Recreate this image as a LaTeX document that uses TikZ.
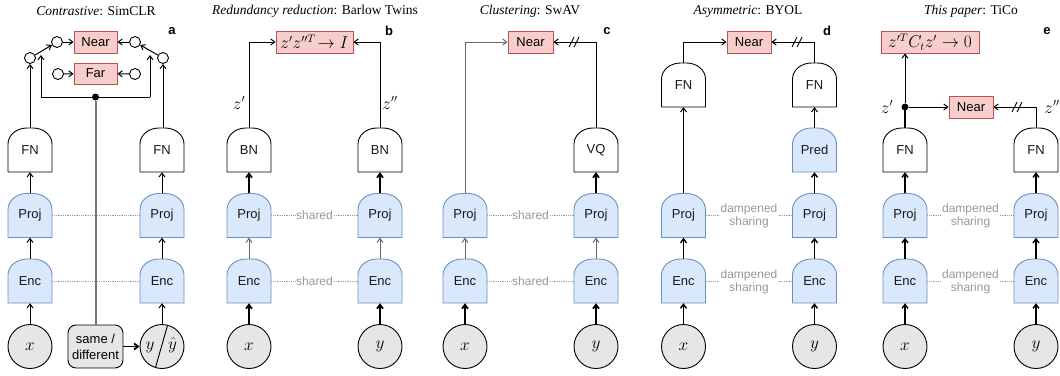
\documentclass[tikz,border=0pt]{standalone}
\usepackage{fontspec}
\setmainfont{Liberation Serif}
\setsansfont{Liberation Sans}
\usetikzlibrary{arrows.meta,calc}
\definecolor{bfill}{HTML}{DAE8FC}
\definecolor{bdraw}{HTML}{6C8EBF}
\definecolor{rfill}{HTML}{F8CECC}
\definecolor{rdraw}{HTML}{B85450}
\definecolor{cfill}{HTML}{E6E6E6}
\definecolor{lgray}{HTML}{999999}
\definecolor{dgray}{HTML}{666666}
\definecolor{mgray}{HTML}{777777}
\tikzset{
  sflab/.style={font=\sffamily\fontsize{13}{15}\selectfont},
  gatebase/.style={rectangle, minimum width=44pt, minimum height=44pt, inner sep=0pt, sflab, text=black!90},
  wgate/.style={draw=black, fill=white, line width=0.9pt},
  bgate/.style={draw=bdraw, fill=bfill, line width=0.9pt},
  lossbox/.style={draw=rdraw, fill=rfill, minimum height=22pt, inner sep=0pt, line width=0.9pt, sflab},
  innode/.style={circle, draw, fill=cfill, minimum size=44pt, inner sep=0pt, line width=0.9pt, font=\fontsize{16}{18}\selectfont},
  smallc/.style={circle, draw, fill=white, minimum size=11pt, inner sep=0pt, line width=0.9pt},
  arr/.style={-{Straight Barb[length=4pt,width=6pt]}, line width=1pt},
  marr/.style={-{Straight Barb[length=4pt,width=6pt]}, line width=1.4pt},
  tharr/.style={-{Straight Barb[length=4pt,width=6pt]}, line width=1.8pt},
  garr/.style={-{Straight Barb[length=4pt,width=6pt]}, line width=1pt, draw=dgray},
  plainline/.style={line width=1pt},
  dotline/.style={densely dotted, draw=lgray, line width=0.8pt},
  sharelab/.style={font=\sffamily\fontsize{12}{13}\selectfont, text=lgray, fill=white, inner sep=1pt, align=center},
  titlelab/.style={font=\fontsize{13.5}{15}\selectfont},
  panlab/.style={font=\sffamily\bfseries\fontsize{13}{15}\selectfont},
  mlab/.style={font=\fontsize{16}{18}\selectfont, inner sep=1pt},
  dotnode/.style={circle, fill=black, minimum size=7pt, inner sep=0pt},
}
\newcommand\gatenode[5]{%
  \path[#5] (#2-22,#3+22) -- (#2-22,#3-6) arc[start angle=180,end angle=270,x radius=19,y radius=16]
    -- (#2+3,#3-22) arc[start angle=270,end angle=360,x radius=19,y radius=16] -- (#2+22,#3+22) -- cycle;
  \node[gatebase] (#1) at (#2,#3) {#4};
}
\newcommand\slashmark[2]{%
  \draw[line width=0.9pt] (#1-6,#2+5) -- (#1-1,#2-5);
  \draw[line width=0.9pt] (#1-1,#2+5) -- (#1+4,#2-5);
}
\begin{document}
\begin{tikzpicture}[x=1pt,y=-1pt]
\useasboundingbox (0,0) rectangle (1060,375);

% ---------------- titles ----------------
\node[titlelab] (ta) at (96,11) {\textit{Contrastive}: SimCLR};
\node[titlelab] (tb) at (315,11) {\textit{Redundancy reduction}: Barlow Twins};
\node[titlelab] (tc) at (530,11) {\textit{Clustering}: SwAV};
\node[titlelab] (td) at (748,11) {\textit{Asymmetric}: BYOL};
\node[titlelab] (te) at (971,11) {\textit{This paper}: TiCo};
\node[panlab] (la) at (172,31) {a};
\node[panlab] (lb) at (389,31) {b};
\node[panlab] (lc) at (607,31) {c};
\node[panlab] (ld) at (827,31) {d};
\node[panlab] (le) at (1047,31) {e};

% ---------------- panel a ----------------
\gatenode{aFNl}{30}{150}{FN}{wgate}
\gatenode{aFNr}{162}{150}{FN}{wgate}
\gatenode{aPl}{30}{215.5}{Proj}{bgate}
\gatenode{aPr}{162}{215.5}{Proj}{bgate}
\gatenode{aEl}{30}{281}{Enc}{bgate}
\gatenode{aEr}{162}{281}{Enc}{bgate}
\node[innode] (ax) at (30,346.5) {$x$};
\node[innode] (ay) at (162,346.5) {};
\coordinate (ayt) at (167.5,325.5);
\coordinate (ayb) at (155.5,367.5);
\draw[line width=0.9pt] (ayt) -- (ayb);
\node[mlab] (aylab) at (150,347) {$y$};
\node[mlab] (ayhat) at (172.5,345.5) {$\hat{y}$};
\node[draw, fill=cfill, rounded corners=8pt, minimum width=55pt, minimum height=43pt, inner sep=0pt, align=center, line width=0.9pt, font=\sffamily\fontsize{13}{16}\selectfont] (asd) at (95.5,346.5) {same /\\different};
\node[lossbox, minimum width=43pt] (aNear) at (95.5,42) {Near};
\node[lossbox, minimum width=43pt, minimum height=21pt] (aFar) at (95.5,73.5) {Far};
\node[smallc] (aO1) at (30,58) {};
\node[smallc] (aO2) at (163,58) {};
\node[smallc] (aN1) at (57,42) {};
\node[smallc] (aN2) at (135,42) {};
\node[smallc] (aF1) at (58,74) {};
\node[smallc] (aF2) at (135,74) {};
\node[dotnode] (aDot) at (95.5,97) {};
\coordinate (aBL) at (41,97);
\coordinate (aBR) at (150,97);
\coordinate (aBLt) at (41,55);
\coordinate (aBRt) at (150,55);
\draw[dotline] (aPl) -- (aPr);
\draw[dotline] (aEl) -- (aEr);
\draw[line width=2pt, draw=mgray] (asd) -- (aDot);
\draw[arr] (ax) -- (aEl);
\draw[arr] (aEl) -- (aPl);
\draw[arr] (aPl) -- (aFNl);
\draw[arr] (aFNl) -- (aO1);
\draw[arr] (ay) -- (aEr);
\draw[arr] (aEr) -- (aPr);
\draw[arr] (aPr) -- (aFNr);
\draw[arr] (aFNr.north -| aO2) -- (aO2);
\draw[arr] (aO1) -- (aN1);
\draw[arr] (aO2) -- (aN2);
\draw[arr] (aN1) -- (aNear);
\draw[arr] (aN2) -- (aNear);
\draw[arr] (aF1) -- (aFar);
\draw[arr] (aF2) -- (aFar);
\draw[plainline] (aBL) -- (aBR);
\draw[arr] (aBL) -- (aBLt);
\draw[arr] (aBR) -- (aBRt);
\draw[tharr] (asd) -- (ay);

% ---------------- panel b ----------------
\gatenode{bBNl}{249}{150}{BN}{wgate}
\gatenode{bBNr}{380}{150}{BN}{wgate}
\gatenode{bPl}{249}{215.5}{Proj}{bgate}
\gatenode{bPr}{380}{215.5}{Proj}{bgate}
\gatenode{bEl}{249}{281}{Enc}{bgate}
\gatenode{bEr}{380}{281}{Enc}{bgate}
\node[innode] (bx) at (249,346.5) {$x$};
\node[innode] (by) at (380,346.5) {$y$};
\node[lossbox, minimum width=77pt] (bLoss) at (314.5,42) {\fontsize{16}{18}\selectfont$z'z''^{T}\!\rightarrow I$};
\node[sharelab] (bsP) at (314.5,215.5) {shared};
\node[sharelab] (bsE) at (314.5,281) {shared};
\draw[dotline] (bPl) -- (bsP); \draw[dotline] (bsP) -- (bPr);
\draw[dotline] (bEl) -- (bsE); \draw[dotline] (bsE) -- (bEr);
\draw[tharr] (bx) -- (bEl);
\draw[garr] (bEl) -- (bPl);
\draw[tharr] (bPl) -- (bBNl);
\draw[tharr] (by) -- (bEr);
\draw[garr] (bEr) -- (bPr);
\draw[tharr] (bPr) -- (bBNr);
\draw[arr] (bBNl.north) |- (bLoss.west);
\draw[arr] (bBNr.north) |- (bLoss.east);
\node[mlab] (bzl) at (239,103) {$z'$};
\node[mlab] (bzr) at (390,103) {$z''$};

% ---------------- panel c ----------------
\gatenode{cVQ}{596}{150}{VQ}{wgate}
\gatenode{cPl}{465}{215.5}{Proj}{bgate}
\gatenode{cPr}{596}{215.5}{Proj}{bgate}
\gatenode{cEl}{465}{281}{Enc}{bgate}
\gatenode{cEr}{596}{281}{Enc}{bgate}
\node[innode] (cx) at (465,346.5) {$x$};
\node[innode] (cy) at (596,346.5) {$y$};
\node[lossbox, minimum width=45pt] (cNear) at (530.5,42) {Near};
\node[sharelab] (csP) at (530.5,215.5) {shared};
\node[sharelab] (csE) at (530.5,281) {shared};
\draw[dotline] (cPl) -- (csP); \draw[dotline] (csP) -- (cPr);
\draw[dotline] (cEl) -- (csE); \draw[dotline] (csE) -- (cEr);
\draw[tharr] (cx) -- (cEl);
\draw[garr] (cEl) -- (cPl);
\draw[tharr] (cy) -- (cEr);
\draw[garr] (cEr) -- (cPr);
\draw[tharr] (cPr) -- (cVQ);
\draw[garr] (cPl.north) |- (cNear.west);
\draw[arr] (cVQ.north) |- (cNear.east);
\slashmark{575}{42}

% ---------------- panel d ----------------
\gatenode{dFNl}{683.5}{85}{FN}{wgate}
\gatenode{dFNr}{814.5}{85}{FN}{wgate}
\gatenode{dPred}{814.5}{150}{Pred}{bgate}
\gatenode{dPl}{683.5}{215.5}{Proj}{bgate}
\gatenode{dPr}{814.5}{215.5}{Proj}{bgate}
\gatenode{dEl}{683.5}{281}{Enc}{bgate}
\gatenode{dEr}{814.5}{281}{Enc}{bgate}
\node[innode] (dx) at (683.5,346.5) {$x$};
\node[innode] (dy) at (814.5,346.5) {$y$};
\node[lossbox, minimum width=44pt] (dNear) at (749,42) {Near};
\node[sharelab] (dsP) at (749,216) {dampened\\sharing};
\node[sharelab] (dsE) at (749,281.5) {dampened\\sharing};
\draw[dotline] (dPl) -- (dsP.west |- dPl); \draw[dotline] (dsP.east |- dPr) -- (dPr);
\draw[dotline] (dEl) -- (dsE.west |- dEl); \draw[dotline] (dsE.east |- dEr) -- (dEr);
\draw[marr] (dx) -- (dEl);
\draw[marr] (dEl) -- (dPl);
\draw[arr] (dPl) -- (dFNl);
\draw[marr] (dy) -- (dEr);
\draw[marr] (dEr) -- (dPr);
\draw[marr] (dPr) -- (dPred);
\draw[arr] (dPred) -- (dFNr);
\draw[arr] (dFNl.north) |- (dNear.west);
\draw[arr] (dFNr.north) |- (dNear.east);
\slashmark{798}{42}

% ---------------- panel e ----------------
\gatenode{eFNl}{905}{150}{FN}{wgate}
\gatenode{eFNr}{1036}{150}{FN}{wgate}
\gatenode{ePl}{905}{215.5}{Proj}{bgate}
\gatenode{ePr}{1036}{215.5}{Proj}{bgate}
\gatenode{eEl}{905}{281}{Enc}{bgate}
\gatenode{eEr}{1036}{281}{Enc}{bgate}
\node[innode] (ex) at (905,346.5) {$x$};
\node[innode] (ey) at (1036,346.5) {$y$};
\node[lossbox, minimum width=98pt] (eLoss) at (930,42) {\fontsize{16}{18}\selectfont$z'^{T}C_t z'\rightarrow 0$};
\node[lossbox, minimum width=44pt] (eNear) at (971,107) {Near};
\node[dotnode] (eDot) at (905,107) {};
\node[sharelab] (esP) at (970.5,216) {dampened\\sharing};
\node[sharelab] (esE) at (970.5,281.5) {dampened\\sharing};
\draw[dotline] (ePl) -- (esP.west |- ePl); \draw[dotline] (esP.east |- ePr) -- (ePr);
\draw[dotline] (eEl) -- (esE.west |- eEl); \draw[dotline] (esE.east |- eEr) -- (eEr);
\draw[marr] (ex) -- (eEl);
\draw[marr] (eEl) -- (ePl);
\draw[marr] (ePl) -- (eFNl);
\draw[marr] (ey) -- (eEr);
\draw[marr] (eEr) -- (ePr);
\draw[marr] (ePr) -- (eFNr);
\draw[line width=1.2pt] (eFNl.north) -- (eDot.center);
\draw[arr] (eDot) -- (eDot |- eLoss.south);
\draw[arr] (eDot) -- (eNear);
\draw[arr] (eFNr.north) |- (eNear.east);
\slashmark{1018}{107}
\node[mlab] (ezl) at (887,107) {$z'$};
\node[mlab] (ezr) at (1052,107) {$z''$};
\end{tikzpicture}
\end{document}
